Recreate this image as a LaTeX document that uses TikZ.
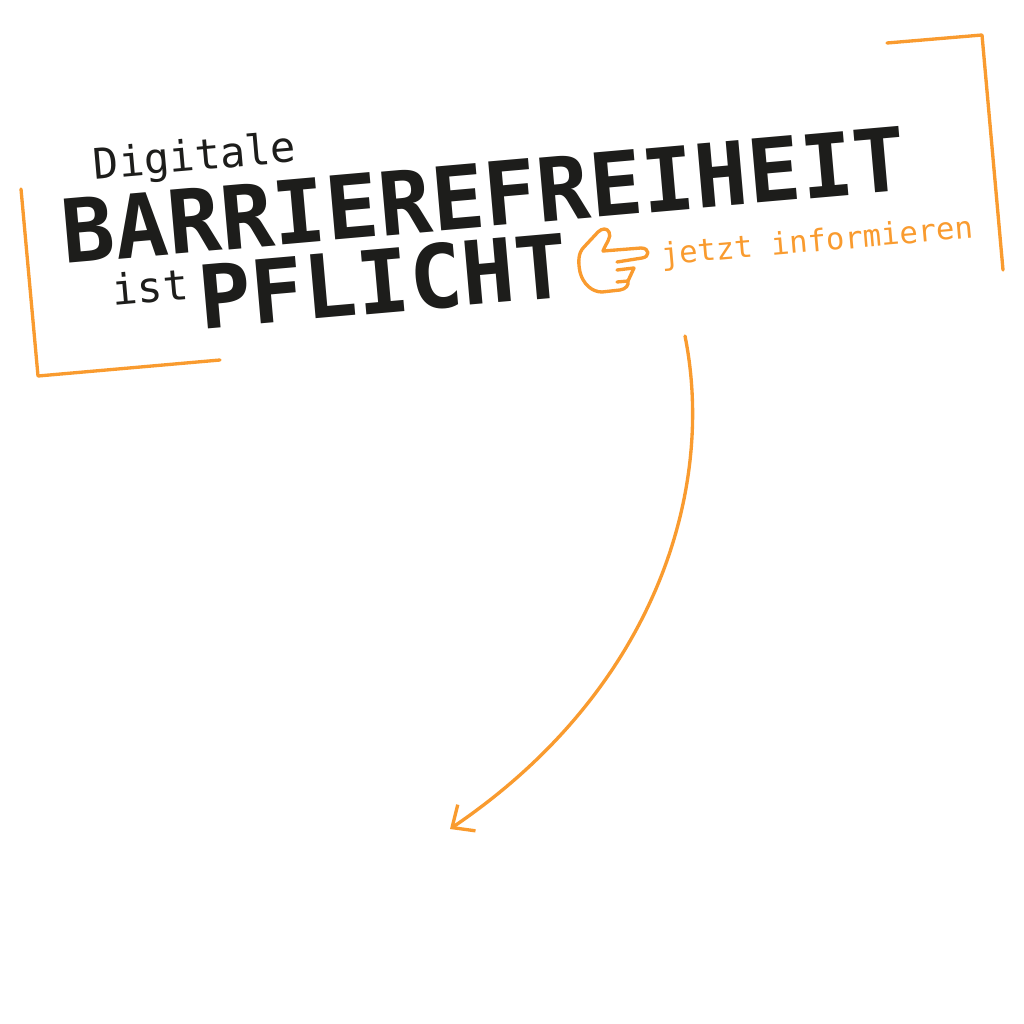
\documentclass[tikz,border=0pt]{standalone}
\usepackage{fontspec}
\setmonofont{DejaVu Sans Mono}
\usetikzlibrary{arrows.meta}

\definecolor{signorange}{HTML}{F99B2F}
\definecolor{signblack}{HTML}{1D1D1B}

\tikzset{
    bigword/.style={inner sep=0pt,rotate=5,text=signblack,font=\ttfamily\bfseries\fontsize{25}{25}\selectfont},
    smallword/.style={inner sep=0pt,rotate=5,text=signblack,font=\ttfamily\fontsize{12}{12}\selectfont},
    linkword/.style={inner sep=0pt,rotate=5,text=signorange,font=\ttfamily\fontsize{8.7}{9}\selectfont},
    orangeline/.style={draw=signorange,line width=0.95pt,line cap=round,line join=round}
}

\begin{document}
\begin{tikzpicture}[x=0.01cm,y=-0.01cm]
        \useasboundingbox (0,0) rectangle (1024,1024);

        \coordinate (TL) at (887,43);
        \coordinate (TC) at (982,35);
        \coordinate (TR) at (1003,270);
        \coordinate (BL) at (21,189);
        \coordinate (BC) at (38,376);
        \coordinate (BR) at (220,360);
        \coordinate (S) at (685,336);
        \coordinate (E) at (450,829);

        \node[smallword] (digitale) at (195,159) {Digitale};
        \node[bigword] (barriere) at (484,195) {BARRIEREFREIHEIT};
        \node[smallword] (ist) at (150,287) {ist};
        \node[bigword] (pflicht) at (383,281) {PFLICHT};
        \node[linkword] (jetzt) at (817,243) {jetzt informieren};

        \draw[orangeline] (TL) -- (TC) -- (TR);
        \draw[orangeline] (BL) -- (BC) -- (BR);

        % hand
        \draw[orangeline] (603,251) .. controls (606,243) and (612,237) .. (609,232)
            .. controls (607,228) and (602,228) .. (598,232) -- (584,247)
            .. controls (578,253) and (578,262) .. (580,272)
            .. controls (583,284) and (592,292) .. (602,292) -- (620,290)
            .. controls (626,289) and (629,285) .. (628,281);
        \draw[orangeline] (603,251) -- (641,248)
            .. controls (650,248) and (650,257) .. (642,258) -- (617,262);
        \draw[orangeline] (617,270) -- (634,268) -- (628,281) -- (617,282);

        \draw[orangeline,-{Straight Barb[length=5pt,width=9pt]}] (S) .. controls (716,490) and (655,690) .. (E);
    \end{tikzpicture}
\end{document}
